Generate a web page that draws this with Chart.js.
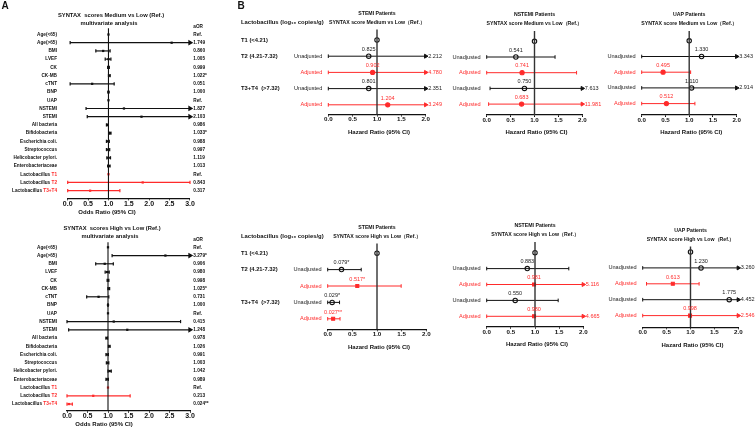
<!DOCTYPE html>
<html>
<head>
<meta charset="utf-8">
<script src="https://cdn.jsdelivr.net/npm/chart.js@4.4.1/dist/chart.umd.min.js"></script>
<style>
  html, body { margin: 0; padding: 0; background: #fff; }
  #wrap { position: relative; width: 755px; height: 431px; overflow: hidden; }
  #wrap canvas { position: absolute; left: 0; top: 0; }
</style>
</head>
<body>
<div id="wrap"></div>
<script>
// ---- panel A: multivariate odds ratios ----
const aRows = ["Age(<65)", "Age(>65)", "BMI", "LVEF", "CK", "CK-MB", "cTNT", "BNP", "UAP",
  "NSTEMI", "STEMI", "All bacteria", "Bifidobacteria", "Escherichia coli.", "Streptococcus",
  "Helicobacter pylori.", "Enterobacteriaceae", "Lactobacillus T1", "Lactobacillus T2",
  "Lactobacillus T3+T4"];
const aRedFrom = 17;
const aTicks = [0, 0.5, 1, 1.5, 2, 2.5, 3];

const medOR = [1, 2.55, 0.87, 1.0, 1.0, 1.02, 0.6, 1.0, 1, 1.38, 1.81, 0.97, 1.04, 0.98, 0.99, 1.0, 1.01, 1, 1.84, 0.55];
const medLo = [1, 0.06, 0.69, 0.92, 0.98, 1.0, 0.06, 0.99, 1, 0.45, 0.48, 0.95, 1.02, 0.95, 0.95, 0.96, 0.98, 1, 0.0, 0.0];
const medHi = [1, 3.5, 1.04, 1.06, 1.02, 1.04, 1.14, 1.01, 1, 3.5, 3.5, 0.99, 1.06, 1.02, 1.03, 1.05, 1.04, 1, 3.0, 1.28];
const medText = ["Ref.", "1.749", "0.860", "1.005", "0.999", "1.022*", "0.051", "1.000", "Ref.", "1.827",
  "2.103", "0.986", "1.033*", "0.988", "0.997", "1.119", "1.013", "Ref.", "0.843", "0.317"];

const highOR = [1, 2.4, 0.92, 0.98, 1.0, 1.02, 0.77, 1.0, 1, 1.14, 1.47, 0.97, 1.03, 0.98, 0.99, 1.04, 0.98, 1, 0.64, 0.05];
const highLo = [1, 1.1, 0.7, 0.93, 0.98, 1.0, 0.48, 0.99, 1, 0.0, 0.04, 0.95, 1.01, 0.95, 0.96, 1.0, 0.95, 1, 0.0, 0.0];
const highHi = [1, 3.5, 1.13, 1.03, 1.02, 1.04, 1.02, 1.01, 1, 2.77, 3.5, 0.99, 1.05, 1.01, 1.02, 1.08, 1.01, 1, 1.54, 0.13];
const highText = ["Ref.", "3.279*", "0.906", "0.980", "0.998", "1.025*", "0.731", "1.000", "Ref.", "0.415",
  "1.248", "0.978", "1.026", "0.991", "1.003", "1.042", "0.989", "Ref.", "0.213", "0.024**"];

// ---- panel B: hazard ratios by Lactobacillus tertile ----
const bGroups = ["T1 (<4.21)", "T2 (4.21-7.32)", "", "T3+T4  (>7.32)", ""];
const bKind = ["ref", "unadj", "adj", "unadj", "adj"];
const bTicks = [0, 0.5, 1, 1.5, 2];

const stemiMedHR = [1, 0.83, 0.91, 0.83, 1.22];
const stemiMedLo = [1, 0, 0, 0, 0];
const stemiMedHi = [1, 2.212, 4.78, 2.351, 3.249];
const stemiMedText = ["", "0.825", "0.902", "0.801", "1.204"];

const nstemiMedHR = [1, 0.61, 0.74, 0.79, 0.73];
const nstemiMedLo = [1, 0, 0, 0.07, 0.04];
const nstemiMedHi = [1, 1.43, 1.88, 7.613, 11.981];
const nstemiMedText = ["", "0.541", "0.741", "0.750", "0.683"];

const uapMedHR = [1, 1.26, 0.45, 1.05, 0.52];
const uapMedLo = [1, 0, 0, 0, 0];
const uapMedHi = [1, 3.343, 1.03, 2.914, 1.12];
const uapMedText = ["", "1.330", "0.495", "1.110", "0.512"];

const stemiHighHR = [1, 0.28, 0.6, 0.09, 0.11];
const stemiHighLo = [1, 0, 0, 0, 0];
const stemiHighHi = [1, 0.68, 1.49, 0.24, 0.25];
const stemiHighText = ["", "0.079*", "0.517*", "0.029*", "0.027**"];

const nstemiHighHR = [1, 0.84, 0.98, 0.59, 0.98];
const nstemiHighLo = [1, 0, 0, 0, 0];
const nstemiHighHi = [1, 1.7, 5.116, 1.48, 4.665];
const nstemiHighText = ["", "0.883", "0.981", "0.550", "0.980"];

const uapHighHR = [1, 1.22, 0.63, 1.81, 0.99];
const uapHighLo = [1, 0, 0.08, 0, 0];
const uapHighHi = [1, 3.26, 1.18, 4.452, 2.546];
const uapHighText = ["", "1.230", "0.613", "1.775", "0.998"];

const RED = "#ff2b2b";
const INK = "#111";
const FONT = "'Liberation Sans', Arial, sans-serif";

function addCanvas() {
  const c = document.createElement("canvas");
  c.width = 755;
  c.height = 431;
  document.getElementById("wrap").appendChild(c);
  return c;
}

// one CI line, clamped to the axis end; an arrow marks values past it
function whisker(lo, hi, row, max, color, cap, lw) {
  const arrow = hi > max;
  return {
    data: [{ x: lo, y: row }, { x: Math.min(hi, max), y: row }],
    showLine: true,
    borderColor: color,
    borderWidth: lw,
    pointStyle: ["line", arrow ? "triangle" : "line"],
    pointRotation: 90,
    pointRadius: [cap, arrow ? cap + 0.5 : cap],
    pointBorderColor: color,
    pointBackgroundColor: color,
    pointBorderWidth: lw,
    clip: false
  };
}

function baseOptions(g, xMax, ticks, tickFont, yMin, yMax) {
  return {
    responsive: false,
    animation: false,
    events: [],
    layout: {
      padding: { left: g.x0, right: 755 - g.xEnd, top: g.top, bottom: 431 - g.axis - 12 }
    },
    plugins: { legend: { display: false }, tooltip: { enabled: false } },
    scales: {
      x: {
        type: "linear", min: 0, max: xMax,
        afterBuildTicks: s => { s.ticks = ticks.map(v => ({ value: v })); },
        afterFit: s => { s.height = 12; },
        ticks: {
          callback: v => v.toFixed(1), color: INK, padding: 0,
          maxRotation: 0, font: { family: FONT, size: tickFont, weight: "bold", lineHeight: 1 }
        },
        grid: { drawOnChartArea: false, drawTicks: true, tickLength: 2, color: INK, lineWidth: 1 },
        border: { color: INK, width: 1.3 }
      },
      y: { type: "linear", display: false, reverse: true, min: yMin, max: yMax }
    }
  };
}

function forestA(g, or, lo, hi, text, title) {
  const yMin = (g.top - g.row0) / g.step;
  const yMax = (g.axis - g.row0) / g.step;
  const sets = [{
    data: [{ x: 1, y: yMin }, { x: 1, y: yMax }], showLine: true,
    borderColor: INK, borderWidth: 1.1, pointRadius: 0, clip: false
  }];
  aRows.forEach((name, i) => {
    if (hi[i] > lo[i]) sets.push(whisker(lo[i], hi[i], i, 3, i >= aRedFrom ? RED : INK, 1.6, 1.2));
  });
  sets.push({
    data: or.map((v, i) => ({ x: v, y: i })),
    pointStyle: "rect", pointRadius: 1.6, pointBorderWidth: 0,
    pointBackgroundColor: or.map((v, i) => (i >= aRedFrom ? RED : INK)), clip: false
  });

  new Chart(addCanvas(), {
    type: "scatter",
    data: { datasets: sets },
    options: baseOptions(g, 3, aTicks, 7, yMin, yMax),
    plugins: [{
      id: "aText",
      afterDraw(chart) {
        const { ctx, chartArea: ca } = chart;
        const y = chart.scales.y;
        ctx.save();
        ctx.textBaseline = "middle";
        ctx.font = `bold 4.7px ${FONT}`;
        aRows.forEach((name, i) => {
          const py = y.getPixelForValue(i);
          ctx.textAlign = "left";
          if (i >= aRedFrom) {
            const cut = name.lastIndexOf(" ");
            const head = name.slice(0, cut + 1), tail = name.slice(cut + 1);
            const w1 = ctx.measureText(head).width, w2 = ctx.measureText(tail).width;
            const x0 = g.labelX - w1 - w2;
            ctx.fillStyle = INK; ctx.fillText(head, x0, py);
            ctx.fillStyle = RED; ctx.fillText(tail, x0 + w1, py);
          } else {
            ctx.textAlign = "right";
            ctx.fillStyle = INK;
            ctx.fillText(name, g.labelX, py);
          }
          ctx.textAlign = "left";
          ctx.fillStyle = INK;
          ctx.fillText(text[i], ca.right + 3.3, py);
        });
        ctx.fillText("aOR", ca.right + 3.3, y.getPixelForValue(-0.95));
        ctx.textAlign = "center";
        ctx.font = `bold 5.8px ${FONT}`;
        ctx.fillText(title, g.titleX, g.titleY);
        ctx.fillText("multivariate analysis", g.titleX - 2, g.titleY + 7.5);
        ctx.font = `bold 6px ${FONT}`;
        ctx.fillText("Odds Ratio (95% CI)", g.xTitleX, g.axis + 13.8);
        if (g.letter) {
          ctx.textAlign = "left";
          ctx.font = `bold 10px ${FONT}`;
          ctx.fillText(g.letter, 1.5, 6.5);
        }
        ctx.restore();
      }
    }]
  });
}

function forestB(g, hr, lo, hi, text, titles) {
  const yMin = (g.top - g.row0) / g.step;
  const yMax = (g.axis - g.row0) / g.step;
  const sets = [{
    data: [{ x: 1, y: yMin }, { x: 1, y: yMax }], showLine: true,
    borderColor: "#333", borderWidth: 1.4, pointRadius: 0, clip: false
  }];
  hr.forEach((v, i) => {
    if (bKind[i] !== "ref") sets.push(whisker(lo[i], hi[i], i, 2, bKind[i] === "adj" ? RED : INK, 1.8, 1));
  });
  sets.push({
    data: hr.map((v, i) => ({ x: v, y: i })),
    pointStyle: bKind.map(k => (k === "adj" ? g.adjStyle : "circle")),
    pointRadius: bKind.map(k => (k === "adj" ? 2.1 : 2.2)),
    pointBackgroundColor: bKind.map(k => (k === "adj" ? RED : "#fff")),
    pointBorderColor: bKind.map(k => (k === "adj" ? RED : INK)),
    pointBorderWidth: 1.1,
    clip: false
  });

  new Chart(addCanvas(), {
    type: "scatter",
    data: { datasets: sets },
    options: baseOptions(g, 2, bTicks, 6.2, yMin, yMax),
    plugins: [{
      id: "bText",
      afterDraw(chart) {
        const { ctx, chartArea: ca } = chart;
        const x = chart.scales.x, y = chart.scales.y;
        const midX = x.getPixelForValue(1);
        ctx.save();
        ctx.textBaseline = "middle";
        ctx.fillStyle = INK;
        ctx.textAlign = "center";
        ctx.font = `bold 5.2px ${FONT}`;
        ctx.fillText(titles[0], midX, ca.top - 16);
        ctx.fillText(titles[1], midX, ca.top - 7);
        ctx.font = `bold 6px ${FONT}`;
        ctx.fillText("Hazard Ratio (95% CI)", (ca.left + ca.right) / 2 + 2, g.axis + 17.8);

        hr.forEach((v, i) => {
          const py = y.getPixelForValue(i);
          const col = bKind[i] === "adj" ? RED : "#222";
          if (bKind[i] !== "ref") {
            ctx.font = `5.6px ${FONT}`;
            ctx.fillStyle = col;
            ctx.textAlign = "right";
            ctx.fillText(bKind[i] === "adj" ? "Adjusted" : "Unadjusted", ca.left - 6, py);
            ctx.textAlign = "center";
            ctx.font = `5.5px ${FONT}`;
            ctx.fillText(text[i], x.getPixelForValue(v), py - 6.8);
            if (hi[i] > 2) {
              ctx.textAlign = "left";
              ctx.fillText(hi[i].toFixed(3), x.getPixelForValue(2) + 2.5, py);
            }
          }
          if (g.groups && bGroups[i]) {
            ctx.textAlign = "left";
            ctx.fillStyle = INK;
            ctx.font = `bold 5.8px ${FONT}`;
            ctx.fillText(bGroups[i], 241, py);
          }
        });
        if (g.groups) {
          ctx.textAlign = "left";
          ctx.fillStyle = INK;
          ctx.font = `bold 5.9px ${FONT}`;
          ctx.fillText("Lactobacillus (log\u2081\u2080 copies/g)", 241, ca.top - 7);
        }
        if (g.letter) {
          ctx.textAlign = "left";
          ctx.font = `bold 10px ${FONT}`;
          ctx.fillText(g.letter, 237.5, 6.5);
        }
        ctx.restore();
      }
    }]
  });
}

forestA({ x0: 67.7, xEnd: 190, top: 28.3, axis: 198.3, row0: 34.5, step: 8.22,
  labelX: 57, titleX: 111, titleY: 15.5, xTitleX: 107, letter: "A" },
  medOR, medLo, medHi, medText, "SYNTAX  scores Medium vs Low (Ref.)");
forestA({ x0: 67, xEnd: 190, top: 242.3, axis: 410.7, row0: 247.3, step: 8.25,
  labelX: 57, titleX: 112, titleY: 228.5, xTitleX: 104, letter: "" },
  highOR, highLo, highHi, highText, "SYNTAX  scores High vs Low (Ref.)");

const medTitle = "SYNTAX score Medium vs Low\uFF08Ref.\uFF09";
const highTitle = "SYNTAX score High vs Low\uFF08Ref.\uFF09";
forestB({ x0: 328.3, xEnd: 425.7, top: 29.5, axis: 114.5, row0: 40, step: 16.2, adjStyle: "circle", groups: true, letter: "B" },
  stemiMedHR, stemiMedLo, stemiMedHi, stemiMedText, ["STEMI Patients", medTitle]);
forestB({ x0: 486.7, xEnd: 582.3, top: 31, axis: 115, row0: 41.3, step: 15.7, adjStyle: "circle" },
  nstemiMedHR, nstemiMedLo, nstemiMedHi, nstemiMedText, ["NSTEMI Patients", medTitle]);
forestB({ x0: 641.7, xEnd: 736.7, top: 31, axis: 115, row0: 40.8, step: 15.7, adjStyle: "circle" },
  uapMedHR, uapMedLo, uapMedHi, uapMedText, ["UAP Patients", medTitle]);
forestB({ x0: 327.7, xEnd: 426.3, top: 243.5, axis: 329.3, row0: 253.2, step: 16.4, adjStyle: "rect", groups: true },
  stemiHighHR, stemiHighLo, stemiHighHi, stemiHighText, ["STEMI Patients", highTitle]);
forestB({ x0: 486.7, xEnd: 583.3, top: 242, axis: 326.7, row0: 252.7, step: 15.9, adjStyle: "rect" },
  nstemiHighHR, nstemiHighLo, nstemiHighHi, nstemiHighText, ["NSTEMI Patients", highTitle]);
forestB({ x0: 642.7, xEnd: 738.3, top: 246.5, axis: 327.3, row0: 252, step: 15.9, adjStyle: "rect" },
  uapHighHR, uapHighLo, uapHighHi, uapHighText, ["UAP Patients", highTitle]);
</script>
</body>
</html>
